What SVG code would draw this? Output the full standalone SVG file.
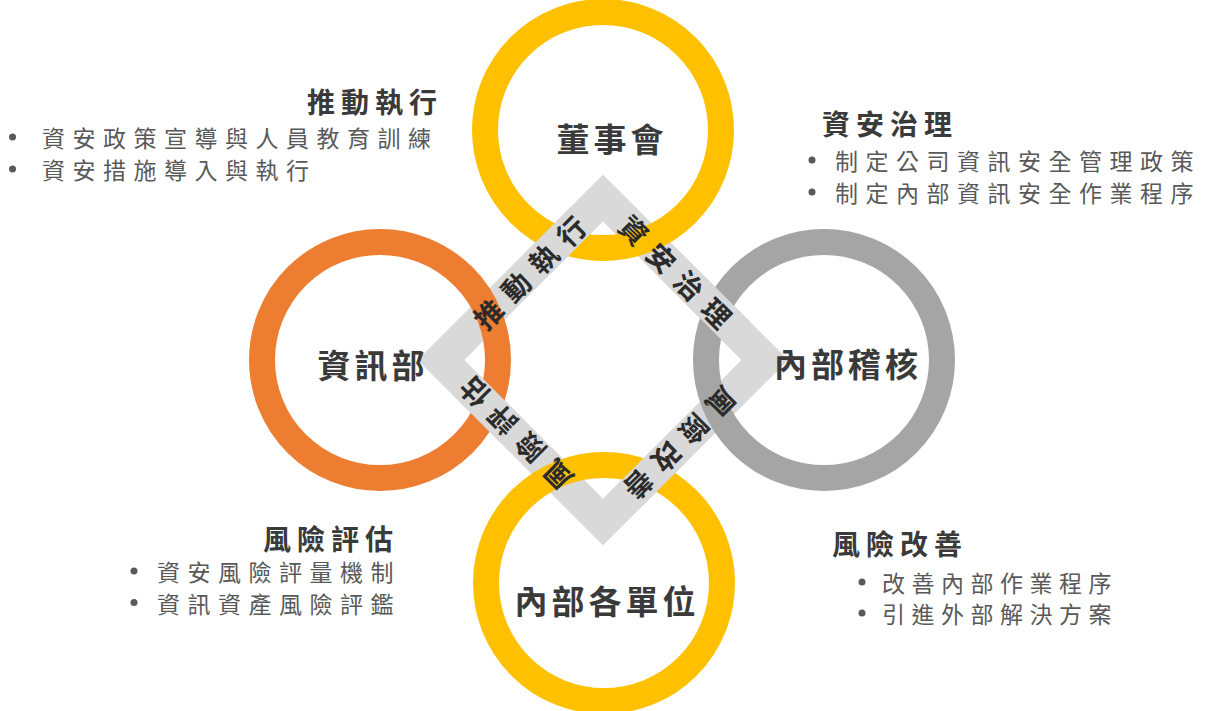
<svg xmlns="http://www.w3.org/2000/svg" width="1229" height="711" viewBox="0 0 1229 711">
<style>
.ring{fill:none;stroke-width:26}
.band{fill:none;stroke:#D9D9D9;stroke-width:33;stroke-linejoin:miter;stroke-miterlimit:10}
.seg{stroke:#D9D9D9;stroke-width:33;stroke-linecap:butt}
.title{font-family:"Noto Sans CJK TC","Noto Sans CJK SC",sans-serif;font-size:33px;font-weight:700;fill:#3A3A3A;letter-spacing:4px}
.dtext{font-family:"Noto Sans CJK TC","Noto Sans CJK SC",sans-serif;font-size:28px;font-weight:700;fill:#2B2B2B;letter-spacing:11px}
.head{font-family:"Noto Sans CJK TC","Noto Sans CJK SC",sans-serif;font-size:28px;font-weight:700;fill:#3A3A3A;letter-spacing:6px}
.item{font-family:"Noto Sans CJK TC","Noto Sans CJK SC",sans-serif;font-size:23px;font-weight:400;fill:#595959;letter-spacing:7.5px}
.dot{fill:#595959}
</style>
<rect width="1229" height="711" fill="#FFFFFF"/>

<g id="connectors">
  <polygon class="band" points="603,198 765,360 603,522 441,360"/>
</g>

<g id="rings">
  <circle class="ring" cx="603" cy="130" r="118" stroke="#FFC000"/>
  <circle class="ring" cx="380" cy="360" r="118" stroke="#ED7D31"/>
  <circle class="ring" cx="824" cy="360" r="118" stroke="#A5A5A5"/>
  <circle class="ring" cx="604" cy="583" r="118" stroke="#FFC000"/>
</g>

<g id="band-over">
  <line class="seg" x1="583.4" y1="217.6" x2="538.2" y2="262.8"/>
  <line class="seg" x1="465.4" y1="384.4" x2="510.6" y2="429.6"/>
  <line class="seg" x1="627.9" y1="497.1" x2="673.1" y2="451.9"/>
  <line class="seg" x1="739.1" y1="334.1" x2="693.9" y2="288.9"/>
</g>

<g id="edge-labels">
  <text class="dtext" transform="translate(529,272) rotate(-45)" x="-72.5" y="0" dominant-baseline="central">推動執行</text>
  <text class="dtext" transform="translate(676,271) rotate(45)" x="-72.5" y="0" dominant-baseline="central">資安治理</text>
  <text class="dtext" transform="translate(515.5,434.5) rotate(-135)" x="-72.5" y="0" dominant-baseline="central">風險評估</text>
  <text class="dtext" transform="translate(681,444) rotate(135)" x="-72.5" y="0" dominant-baseline="central">風險改善</text>
</g>

<g id="node-board">
  <text class="title" x="556.5" y="137.5" dominant-baseline="central">董事會</text>
</g>
<g id="node-it">
  <text class="title" x="317.5" y="364" dominant-baseline="central">資訊部</text>
</g>
<g id="node-audit">
  <text class="title" x="774" y="363" dominant-baseline="central">內部稽核</text>
</g>
<g id="node-units">
  <text class="title" x="514.5" y="600" dominant-baseline="central">內部各單位</text>
</g>

<g id="note-promote">
  <text class="head" x="307" y="100.5" dominant-baseline="central">推動執行</text>
  <circle class="dot" cx="12.5" cy="137" r="3.5"/>
  <text class="item" x="42" y="137" dominant-baseline="central">資安政策宣導與人員教育訓練</text>
  <circle class="dot" cx="12.5" cy="169" r="3.5"/>
  <text class="item" x="42" y="169" dominant-baseline="central">資安措施導入與執行</text>
</g>

<g id="note-governance">
  <text class="head" x="822" y="123" dominant-baseline="central">資安治理</text>
  <circle class="dot" cx="812" cy="160" r="3.5"/>
  <text class="item" x="835" y="160" dominant-baseline="central">制定公司資訊安全管理政策</text>
  <circle class="dot" cx="812" cy="192" r="3.5"/>
  <text class="item" x="835" y="192" dominant-baseline="central">制定內部資訊安全作業程序</text>
</g>

<g id="note-assess">
  <text class="head" x="263" y="537.5" dominant-baseline="central">風險評估</text>
  <circle class="dot" cx="134" cy="571" r="3.5"/>
  <text class="item" x="157" y="571" dominant-baseline="central">資安風險評量機制</text>
  <circle class="dot" cx="134" cy="602.5" r="3.5"/>
  <text class="item" x="157" y="602.5" dominant-baseline="central">資訊資產風險評鑑</text>
</g>

<g id="note-improve">
  <text class="head" x="832" y="542.5" dominant-baseline="central">風險改善</text>
  <circle class="dot" cx="862" cy="582" r="3.5"/>
  <text class="item" x="882" y="582" dominant-baseline="central" style="letter-spacing:6.5px">改善內部作業程序</text>
  <circle class="dot" cx="862" cy="613" r="3.5"/>
  <text class="item" x="882" y="613" dominant-baseline="central" style="letter-spacing:6.5px">引進外部解決方案</text>
</g>
</svg>
